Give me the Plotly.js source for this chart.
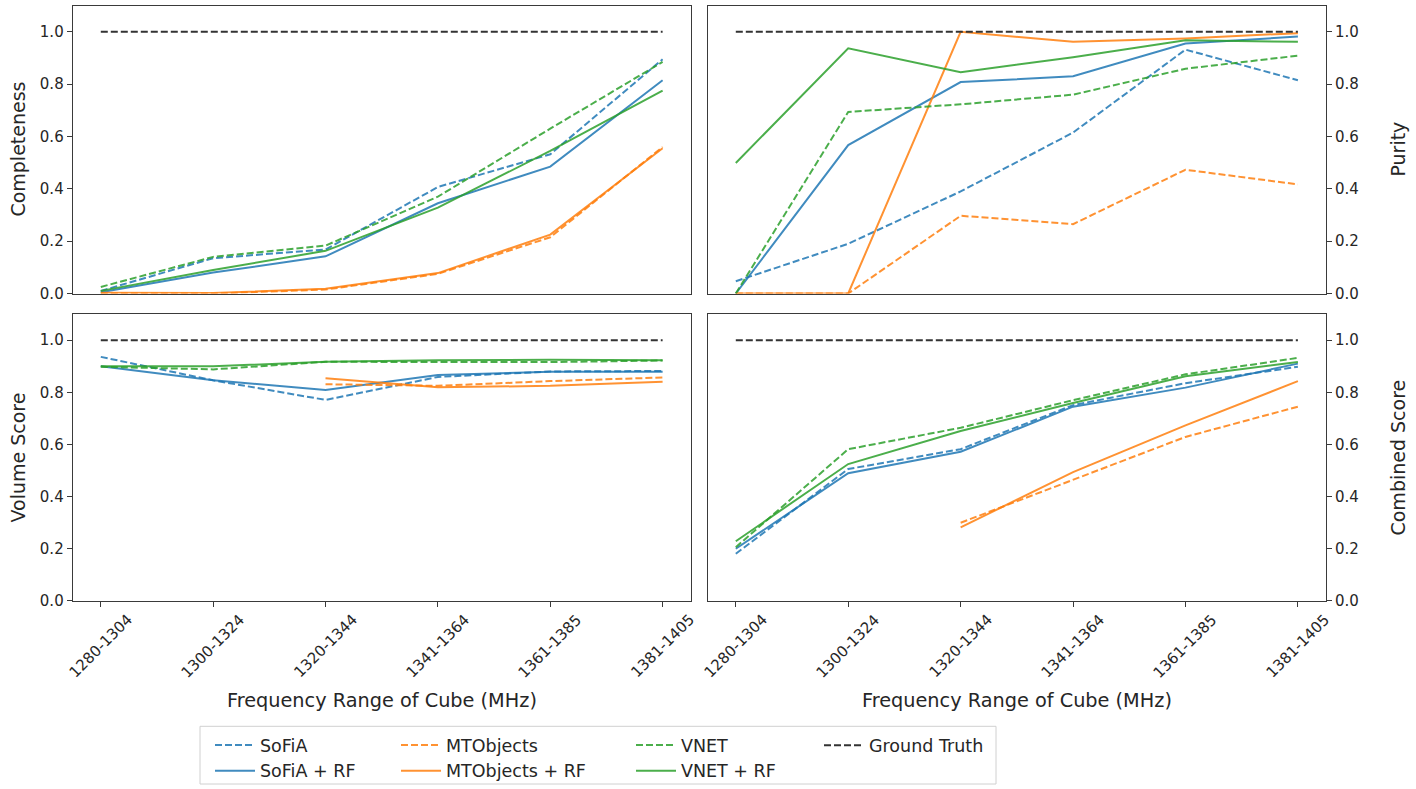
<!DOCTYPE html>
<html>
<head>
<meta charset="utf-8">
<script src="https://cdn.plot.ly/plotly-3.0.1.min.js"></script>
<style>html,body{margin:0;padding:0;background:#fff;}#chart{width:1416px;height:789px;}</style>
</head>
<body>
<div id="chart"></div>
<script>
// ---------- data ----------
const categories = ['1280-1304','1300-1324','1320-1344','1341-1364','1361-1385','1381-1405'];

const seriesNames = ['SoFiA','SoFiA + RF','MTObjects','MTObjects + RF','VNET','VNET + RF'];
const groundTruthName = 'Ground Truth';
const groundTruth = [1, 1, 1, 1, 1, 1];

// Completeness
const compSofia     = [0.010, 0.135, 0.168, 0.407, 0.532, 0.895];
const compSofiaRF   = [0.005, 0.080, 0.142, 0.345, 0.485, 0.815];
const compMTO       = [0.000, 0.000, 0.015, 0.075, 0.215, 0.560];
const compMTORF     = [0.003, 0.002, 0.018, 0.078, 0.225, 0.555];
const compVNET      = [0.025, 0.140, 0.183, 0.370, 0.630, 0.885];
const compVNETRF    = [0.010, 0.090, 0.163, 0.328, 0.545, 0.775];

// Purity
const purSofia      = [0.047, 0.190, 0.390, 0.615, 0.932, 0.815];
const purSofiaRF    = [0.000, 0.567, 0.808, 0.830, 0.955, 0.982];
const purMTO        = [0.000, 0.000, 0.297, 0.265, 0.473, 0.417];
const purMTORF      = [0.000, 0.000, 1.000, 0.962, 0.975, 0.995];
const purVNET       = [0.000, 0.694, 0.723, 0.760, 0.859, 0.909];
const purVNETRF     = [0.499, 0.937, 0.846, 0.903, 0.968, 0.962];

// Volume Score
const volSofia      = [0.936, 0.846, 0.771, 0.859, 0.880, 0.882];
const volSofiaRF    = [0.900, 0.846, 0.809, 0.866, 0.879, 0.879];
const volMTO        = [null, null, 0.831, 0.825, 0.843, 0.857];
const volMTORF      = [null, null, 0.854, 0.819, 0.825, 0.841];
const volVNET       = [0.898, 0.888, 0.917, 0.917, 0.916, 0.922];
const volVNETRF     = [0.900, 0.900, 0.917, 0.923, 0.925, 0.923];

// Combined Score
const combSofia     = [0.181, 0.506, 0.582, 0.751, 0.835, 0.898];
const combSofiaRF   = [0.200, 0.490, 0.572, 0.745, 0.818, 0.910];
const combMTO       = [null, null, 0.300, 0.465, 0.629, 0.745];
const combMTORF     = [null, null, 0.282, 0.494, 0.673, 0.843];
const combVNET      = [0.206, 0.582, 0.664, 0.770, 0.869, 0.932];
const combVNETRF    = [0.229, 0.525, 0.652, 0.759, 0.862, 0.916];

const yTitles = ['Completeness','Purity','Volume Score','Combined Score'];
const xTitle = 'Frequency Range of Cube (MHz)';

// ---------- styling ----------
const W = 1416, H = 789;
const colors = ['#1f77b4','#1f77b4','#ff7f0e','#ff7f0e','#2ca02c','#2ca02c'];
const dashes = ['7px,3px','solid','7px,3px','solid','7px,3px','solid'];
const legendIds = ['legend','legend','legend2','legend2','legend3','legend3'];
const FONT = 'DejaVu Sans, Verdana, sans-serif';
const TXT = '#262626';

const panels = [
  {xa:'x',  ya:'y',  data:[compSofia,compSofiaRF,compMTO,compMTORF,compVNET,compVNETRF]},
  {xa:'x2', ya:'y2', data:[purSofia,purSofiaRF,purMTO,purMTORF,purVNET,purVNETRF]},
  {xa:'x3', ya:'y3', data:[volSofia,volSofiaRF,volMTO,volMTORF,volVNET,volVNETRF]},
  {xa:'x4', ya:'y4', data:[combSofia,combSofiaRF,combMTO,combMTORF,combVNET,combVNETRF]}
];

const traces = [];
panels.forEach((p, pi) => {
  p.data.forEach((vals, si) => {
    traces.push({
      type:'scatter', mode:'lines', x:categories, y:vals,
      xaxis:p.xa, yaxis:p.ya, name:seriesNames[si],
      legend:legendIds[si], showlegend: pi === 0,
      opacity:0.85,
      line:{color:colors[si], width:2, dash:dashes[si]},
      hoverinfo:'x+y+name'
    });
  });
  traces.push({
    type:'scatter', mode:'lines', x:categories, y:groundTruth,
    xaxis:p.xa, yaxis:p.ya, name:groundTruthName,
    legend:'legend4', showlegend: pi === 0,
    line:{color:'#333333', width:2, dash:'7px,3px'}
  });
});

const px = v => v / W;
const py = v => 1 - v / H;

const leftDom  = [px(72.7), px(690.7)];
const rightDom = [px(707.7), px(1326)];
const topDom   = [py(295), py(5.7)];
const botDom   = [py(604), py(315.7)];

const xBase = {
  type:'category', range:[-0.25, 5.25], showgrid:false, zeroline:false,
  showline:true, mirror:true, linecolor:'#3a3a3a', linewidth:1,
  fixedrange:true
};
const yBase = {
  range:[0, 1.1], showgrid:false, zeroline:false,
  showline:true, mirror:true, linecolor:'#3a3a3a', linewidth:1,
  ticks:'outside', ticklen:5, tickwidth:1, tickcolor:'#3a3a3a',
  tickvals:[0,0.2,0.4,0.6,0.8,1.0], tickformat:'.1f',
  tickfont:{family:FONT, size:15, color:TXT}, fixedrange:true
};

const layout = {
  width:W, height:H,
  margin:{l:0, r:0, t:0, b:0, pad:0},
  paper_bgcolor:'#ffffff', plot_bgcolor:'#ffffff',
  font:{family:FONT, color:TXT},
  xaxis:  Object.assign({}, xBase, {domain:leftDom,  anchor:'y',  showticklabels:false, ticks:''}),
  xaxis2: Object.assign({}, xBase, {domain:rightDom, anchor:'y2', showticklabels:false, ticks:''}),
  xaxis3: Object.assign({}, xBase, {domain:leftDom,  anchor:'y3', showticklabels:false, ticks:'outside', ticklen:5, tickcolor:'#3a3a3a'}),
  xaxis4: Object.assign({}, xBase, {domain:rightDom, anchor:'y4', showticklabels:false, ticks:'outside', ticklen:5, tickcolor:'#3a3a3a'}),
  yaxis:  Object.assign({}, yBase, {domain:topDom, anchor:'x'}),
  yaxis2: Object.assign({}, yBase, {domain:topDom, anchor:'x2', side:'right'}),
  yaxis3: Object.assign({}, yBase, {domain:botDom, anchor:'x3'}),
  yaxis4: Object.assign({}, yBase, {domain:botDom, anchor:'x4', side:'right'}),
  annotations:[],
  shapes:[{
    type:'rect', xref:'paper', yref:'paper',
    x0:px(200), x1:px(996), y0:py(788), y1:py(730),
    line:{color:'#d0d0d0', width:1}, fillcolor:'rgba(255,255,255,0.8)', layer:'below'
  }]
};

const legBase = {
  orientation:'v', bgcolor:'rgba(0,0,0,0)', borderwidth:0,
  font:{family:FONT, size:17.5, color:TXT}, yanchor:'top', xanchor:'left',
  tracegroupgap:0, itemclick:false, itemdoubleclick:false, itemwidth:40
};
layout.legend  = Object.assign({}, legBase, {x:px(210), y:py(731)});
layout.legend2 = Object.assign({}, legBase, {x:px(396), y:py(731)});
layout.legend3 = Object.assign({}, legBase, {x:px(631), y:py(731)});
layout.legend4 = Object.assign({}, legBase, {x:px(819), y:py(731)});

// rotated category labels centred under ticks (matplotlib style)
['x3','x4'].forEach(xa => {
  categories.forEach(c => {
    layout.annotations.push({
      xref:xa, yref:'paper', x:c, y:py(611), xanchor:'center', yanchor:'top',
      text:c, textangle:-45, showarrow:false,
      font:{family:FONT, size:15, color:TXT}
    });
  });
  layout.annotations.push({
    xref:xa + ' domain', yref:'paper', x:0.5, y:py(704), xanchor:'center', yanchor:'middle',
    text:xTitle, showarrow:false, font:{family:FONT, size:19.3, color:TXT}
  });
});

// y-axis titles
const yTitlePos = [
  {yref:'y domain',  x:px(18)},
  {yref:'y2 domain', x:px(1398)},
  {yref:'y3 domain', x:px(18)},
  {yref:'y4 domain', x:px(1398)}
];
yTitlePos.forEach((p, i) => {
  layout.annotations.push({
    xref:'paper', yref:p.yref, x:p.x, y:0.5, xanchor:'center', yanchor:'middle',
    text:yTitles[i], textangle:-90, showarrow:false,
    font:{family:FONT, size:19, color:TXT}
  });
});

Plotly.newPlot('chart', traces, layout, {displayModeBar:false, staticPlot:true});
</script>
</body>
</html>
